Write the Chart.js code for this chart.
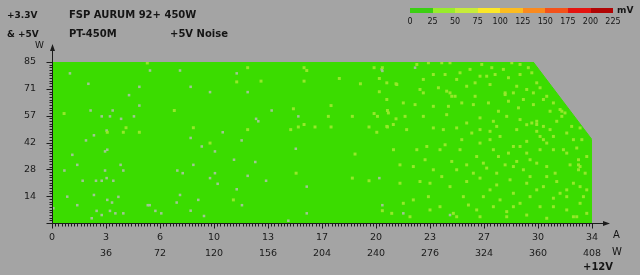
<!DOCTYPE html>
<html>
<head>
<meta charset="utf-8">
<script src="https://cdn.jsdelivr.net/npm/chart.js@4.4.0/dist/chart.umd.min.js"></script>
<style>
html,body{margin:0;padding:0;background:#a4a4a4;}
#wrap{position:relative;width:640px;height:275px;overflow:hidden;font-family:"DejaVu Sans",sans-serif;color:#151515;}
#wrap canvas{position:absolute;left:0;top:0;}
.t{position:absolute;white-space:nowrap;font-size:10px;line-height:12px;}
.b{font-weight:bold;}
#bar{position:absolute;left:410px;top:8px;width:203px;height:5px;display:flex;}
#bar div{flex:1;}
.lab{position:absolute;top:17px;font-size:8px;line-height:10px;transform:translateX(-50%);}
</style>
</head>
<body>
<div id="wrap">
  <canvas id="noise" width="640" height="275"></canvas>
  <div class="t b" style="left:7px;top:9px;font-size:9px;">+3.3V</div>
  <div class="t b" style="left:7px;top:28px;font-size:9px;">&amp; +5V</div>
  <div class="t" style="left:35px;top:39px;font-size:9px;">W</div>
  <div class="t b" style="left:69px;top:9px;">FSP AURUM 92+ 450W</div>
  <div class="t b" style="left:69px;top:28px;">PT-450M</div>
  <div class="t b" style="left:170px;top:28px;">+5V Noise</div>
  <div class="t" style="left:613px;top:229px;">A</div>
  <div class="t" style="left:612px;top:246px;">W</div>
  <div class="t b" style="left:583px;top:261px;">+12V</div>
  <div class="t b" style="left:617px;top:4px;font-size:9px;">mV</div>
  <div id="bar"></div>
</div>
<script>
// colour scale (mV)
const scaleSteps = [0, 25, 50, 75, 100, 125, 150, 175, 200, 225];
const scaleColors = ['#3ccf12', '#98ec2c', '#c6ec3a', '#fce828', '#fcbc20', '#fa8a1e', '#f4521a', '#e41410', '#b00404'];

// +12V axis (A), watt row under it
const ampTicks = [0, 3.4, 6.8, 10.2, 13.6, 17, 20.4, 23.8, 27.2, 30.6, 34];
const ampLabels = ['0', '3', '6', '10', '13', '17', '20', '23', '27', '30', '34'];
const wattLabels = ['', '36', '72', '120', '156', '204', '240', '276', '324', '360', '408'];

// +3.3V & +5V axis (W)
const minorTicks = [14.17, 28.33, 42.5, 56.67, 70.83, 85];
const minorLabels = ['14', '28', '42', '57', '71', '85'];

// tested region outline
const edgeAmps = [0, 30.3, 34];
const edgeWatts = [85, 85, 44];

// cells in the 25-50 mV band
const cells25 = [
  [6.0,84.5],[0.76,57.8],[7.7,59.4],[4.66,50.3],[4.49,47.9],[5.5,47.9],[3.48,47.9],[8.9,50.3],
  [12.32,82.0],[11.63,74.5],[13.16,74.9],[15.87,82.0],[16.04,80.5],[15.87,74.9],[15.2,60.3],[15.51,50.7],
  [15.87,52.0],[16.56,50.7],[15.03,49.3],[12.32,49.3],[9.95,42.2],[17.57,62.0],[17.4,56.3],[17.57,50.7],
  [18.91,56.3],[18.09,76.3],[19.42,73.5],[20.28,82.0],[20.8,82.0],[20.61,76.3],[20.61,69.3],[21.66,73.5],
  [21.12,59.4],[20.28,57.8],[20.49,56.3],[21.66,55.0],[21.49,52.0],[21.12,50.7],[19.96,50.7],[20.45,47.9],
  [19.08,36.4],[18.91,23.7],[19.96,22.3],[15.37,26.3],[11.42,12.2],[20.8,6.5],
  [22.97,83.7],[23.70,84.6],[24.54,84.6],[25.06,84.6],[27.06,83.7],[27.69,82.0],[28.95,84.6],[29.47,83.7],
  [29.99,82.0],[23.38,75.8],[24.01,78.4],[24.75,78.4],[25.69,79.3],[26.32,81.1],[26.95,77.5],[27.90,78.4],
  [28.74,76.7],[29.47,78.4],[30.21,79.3],[30.52,74.0],[21.08,74.0],[21.71,73.1],[23.38,68.7],[24.33,71.4],
  [25.06,68.7],[25.38,66.9],[26.11,72.2],[26.64,66.9],[27.58,73.1],[28.53,68.7],[29.26,72.2],[29.89,70.5],
  [30.73,71.4],[31.15,66.9],[22.86,62.5],[24.96,61.6],[25.80,63.4],[26.53,62.5],[27.48,63.4],[28.11,59.0],
  [28.74,64.3],[29.37,60.8],[30.31,62.5],[31.57,63.4],[31.99,59.9],[21.18,58.1],[22.23,56.3],[23.38,56.3],
  [24.85,57.2],[26.11,52.8],[26.95,55.5],[27.79,53.7],[28.63,56.3],[29.47,54.6],[30.21,52.8],[30.94,51.0],
  [31.78,53.7],[32.30,58.1],[32.72,51.0],[33.25,50.2],[21.08,51.0],[22.33,49.3],[24.01,50.2],[25.48,50.2],
  [26.43,47.5],[27.58,48.4],[28.21,45.7],[29.26,49.3],[30.52,48.4],[31.57,45.7],[32.41,47.5],[33.36,44.0],
  [23.60,40.4],[24.75,41.3],[25.69,38.7],[26.95,42.2],[27.79,38.7],[29.05,40.4],[29.89,36.9],[30.73,38.7],
  [31.15,42.2],[32.20,38.7],[33.04,39.6],[33.67,35.1],[21.91,30.7],[23.49,33.4],[24.01,28.1],[25.17,32.5],
  [26.11,30.7],[27.16,31.6],[27.37,29.0],[28.53,30.7],[29.26,32.5],[30.10,33.4],[31.15,29.8],[31.68,26.3],
  [32.62,30.7],[33.25,29.8],[33.57,26.3],[21.91,21.0],[23.17,21.9],[24.54,24.5],[25.06,19.2],[26.11,21.9],
  [26.95,23.7],[28.00,20.1],[28.84,22.8],[29.89,21.0],[30.94,19.2],[31.78,21.9],[32.41,17.5],[33.25,19.2],
  [22.12,10.4],[22.75,12.2],[23.70,13.9],[24.43,8.6],[25.27,5.1],[26.22,9.5],[27.16,13.9],[27.79,8.6],
  [28.63,6.0],[29.47,10.4],[30.10,13.9],[30.73,8.6],[31.57,13.1],[32.41,6.9],[33.25,10.4],[33.67,5.1],
  [21.39,5.1],[22.54,3.3],[25.48,3.3],[26.95,3.3],[28.63,3.3],[29.89,4.2],[31.15,2.5],[33.04,3.3],
  [23.17,70.5],[24.85,69.6],[25.17,66.9],[25.48,75.8],[26.64,74.0],[27.37,77.5],[28.42,81.1],[28.53,67.8],
  [29.05,68.7],[29.68,65.2],[30.31,68.7],[30.94,65.2],[31.36,59.0],[32.10,59.0],[32.10,56.3],[30.52,53.7],
  [30.52,52.0],[30.73,45.7],[30.94,44.0],[31.57,38.7],[33.15,33.4],[33.15,30.7],[33.15,28.1],[29.89,43.1],
  [29.47,40.4],[28.74,36.9],[28.11,35.1],[27.58,44.0],[26.74,35.1],[25.80,44.0],[24.43,38.7],[22.97,38.7],
  [21.50,38.7],[21.08,65.2],[22.12,63.4],[24.01,61.6],[24.64,49.3],[26.95,49.3],[28.00,51.0],[29.89,51.9],
  [31.36,49.3],[32.83,44.0],[32.41,36.9],[30.52,31.6],[29.68,28.1],[29.05,29.8],[28.00,26.3],[26.53,26.3],
  [25.48,28.1],[22.75,29.8],[23.80,21.0],[27.58,17.5],[29.05,15.7],[30.52,17.5],[31.99,15.7],[32.83,21.0],
  [33.46,13.9],[31.57,8.6],[29.05,8.6],[26.74,6.9],[23.80,6.9],[25.90,13.9],[28.21,12.2],[32.83,3.3],
  [33.67,17.5],[32.41,13.9],[31.15,24.5],[30.10,24.5]
];

// greyish cells (lowest readings)
const cellsLow = [
  [1.13,79.0],[2.29,73.5],[2.43,59.4],[4.85,67.5],[5.5,71.9],[5.5,62.0],[5.16,56.3],[4.35,55.0],
  [3.82,59.4],[3.13,56.3],[3.65,56.3],[3.44,48.8],[3.48,38.7],[3.34,37.8],[2.14,43.6],[2.64,46.3],
  [1.28,36.0],[1.59,30.7],[0.78,27.7],[0.96,13.9],[1.59,9.4],[1.93,22.3],[2.77,22.3],[3.13,22.3],
  [3.86,22.3],[3.44,23.7],[3.34,27.7],[4.49,27.7],[4.32,30.7],[4.18,13.8],[2.64,14.8],[3.48,12.2],
  [3.78,10.8],[2.81,6.4],[3.65,6.4],[3.99,5.1],[4.49,5.1],[2.5,2.5],[3.13,4.2],[6.03,9.4],
  [6.15,9.4],[6.51,6.4],[6.88,5.1],[7.85,10.8],[8.06,14.8],[7.89,27.7],[8.23,26.3],[8.9,30.7],
  [8.73,44.9],[8.73,71.9],[6.17,80.5],[8.06,80.5],[0.08,7.8],
  [11.63,79.0],[9.95,69.1],[12.32,69.1],[13.83,59.4],[12.85,55.0],[12.99,53.7],[10.75,47.9],
  [9.43,40.4],[11.94,43.6],[10.26,37.8],[11.46,33.4],[12.8,32.2],[10.26,26.3],[9.95,23.7],[10.43,20.7],
  [12.32,24.9],[13.48,22.3],[15.35,39.2],[15.51,56.3],[16.04,19.2],[11.63,17.8],[9.21,12.2],[11.96,9.4],
  [8.73,6.5],[9.57,3.7],[16.04,5.1],[20.61,23.7],[20.8,9.4],[20.8,80.3],[14.88,1.2],
  [20.76,81.1],[22.86,82.0],[22.12,5.1],[25.06,4.2]
];

// colour bar legend
const bar = document.getElementById('bar');
scaleColors.forEach(c => {
  const d = document.createElement('div');
  d.style.background = c;
  bar.appendChild(d);
});
scaleSteps.forEach((s, i) => {
  const l = document.createElement('div');
  l.className = 't lab';
  l.style.left = (410 + i * 203 / 9) + 'px';
  l.textContent = s;
  document.getElementById('wrap').appendChild(l);
});

// axis lines, small ticks and arrows
const axisDecor = {
  id: 'axisDecor',
  afterDraw(chart) {
    const { ctx, chartArea: a, scales } = chart;
    const x = scales.x, y = scales.y;
    ctx.save();
    ctx.strokeStyle = '#1c1c1c';
    ctx.fillStyle = '#1c1c1c';
    ctx.lineWidth = 1;
    const x0 = Math.round(a.left) + 0.5;
    const y0 = Math.round(a.bottom) + 0.5;
    ctx.beginPath();
    ctx.moveTo(x0, y0);
    ctx.lineTo(x0, 47);
    ctx.moveTo(x0, y0);
    ctx.lineTo(606, y0);
    // minor ticks
    for (let i = 0; i <= 170; i++) {
      const px = Math.round(x.getPixelForValue(i * 0.2)) + 0.5;
      ctx.moveTo(px, y0);
      ctx.lineTo(px, y0 + (i % 17 === 0 ? 5 : 3));
    }
    for (let i = 0; i <= 60; i++) {
      const py = Math.round(y.getPixelForValue(i * 85 / 60)) + 0.5;
      ctx.moveTo(x0, py);
      ctx.lineTo(x0 - (i % 10 === 0 ? 6 : 3), py);
    }
    ctx.stroke();
    // arrow heads
    ctx.beginPath();
    ctx.moveTo(x0, 44);
    ctx.lineTo(x0 - 2.5, 51);
    ctx.lineTo(x0 + 2.5, 51);
    ctx.closePath();
    ctx.moveTo(610, y0);
    ctx.lineTo(603, y0 - 2.5);
    ctx.lineTo(603, y0 + 2.5);
    ctx.closePath();
    ctx.fill();
    ctx.restore();
  }
};

const toPts = arr => arr.map(p => ({ x: p[0], y: p[1] }));

new Chart(document.getElementById('noise'), {
  type: 'scatter',
  data: {
    datasets: [
      {
        data: toPts(cells25),
        pointStyle: 'rect',
        pointRadius: 2.1,
        backgroundColor: '#95e82a',
        borderWidth: 0,
        order: 1
      },
      {
        data: toPts(cellsLow),
        pointStyle: 'rect',
        pointRadius: 1.8,
        backgroundColor: '#a0c693',
        borderWidth: 0,
        order: 1
      },
      {
        type: 'line',
        data: edgeAmps.map((v, i) => ({ x: v, y: edgeWatts[i] })),
        fill: 'origin',
        backgroundColor: '#3bdc00',
        borderColor: '#3bdc00',
        borderWidth: 1,
        pointRadius: 0,
        tension: 0,
        order: 2
      }
    ]
  },
  options: {
    responsive: false,
    devicePixelRatio: 1,
    animation: false,
    events: [],
    layout: { padding: { left: 0, right: 48, top: 62, bottom: 0 } },
    plugins: { legend: { display: false }, tooltip: { enabled: false } },
    scales: {
      x: {
        type: 'linear',
        min: 0,
        max: 34,
        afterFit(s) { s.height = 52; },
        afterBuildTicks(s) { s.ticks = ampTicks.map(v => ({ value: v })); },
        grid: { display: false, drawTicks: false },
        border: { display: false },
        ticks: {
          padding: 6,
          autoSkip: false,
          maxRotation: 0,
          color: '#1a1a1a',
          font: { family: 'DejaVu Sans', size: 9.5, lineHeight: 1.75 },
          callback(v, i) { return [ampLabels[i], wattLabels[i]]; }
        }
      },
      y: {
        type: 'linear',
        min: 0,
        max: 85,
        afterFit(s) { s.width = 52; },
        afterBuildTicks(s) { s.ticks = minorTicks.map(v => ({ value: v })); },
        grid: { display: false, drawTicks: false },
        border: { display: false },
        ticks: {
          padding: 16,
          autoSkip: false,
          color: '#1a1a1a',
          font: { family: 'DejaVu Sans', size: 9.5 },
          callback(v, i) { return minorLabels[i]; }
        }
      }
    }
  },
  plugins: [axisDecor]
});
</script>
</body>
</html>
